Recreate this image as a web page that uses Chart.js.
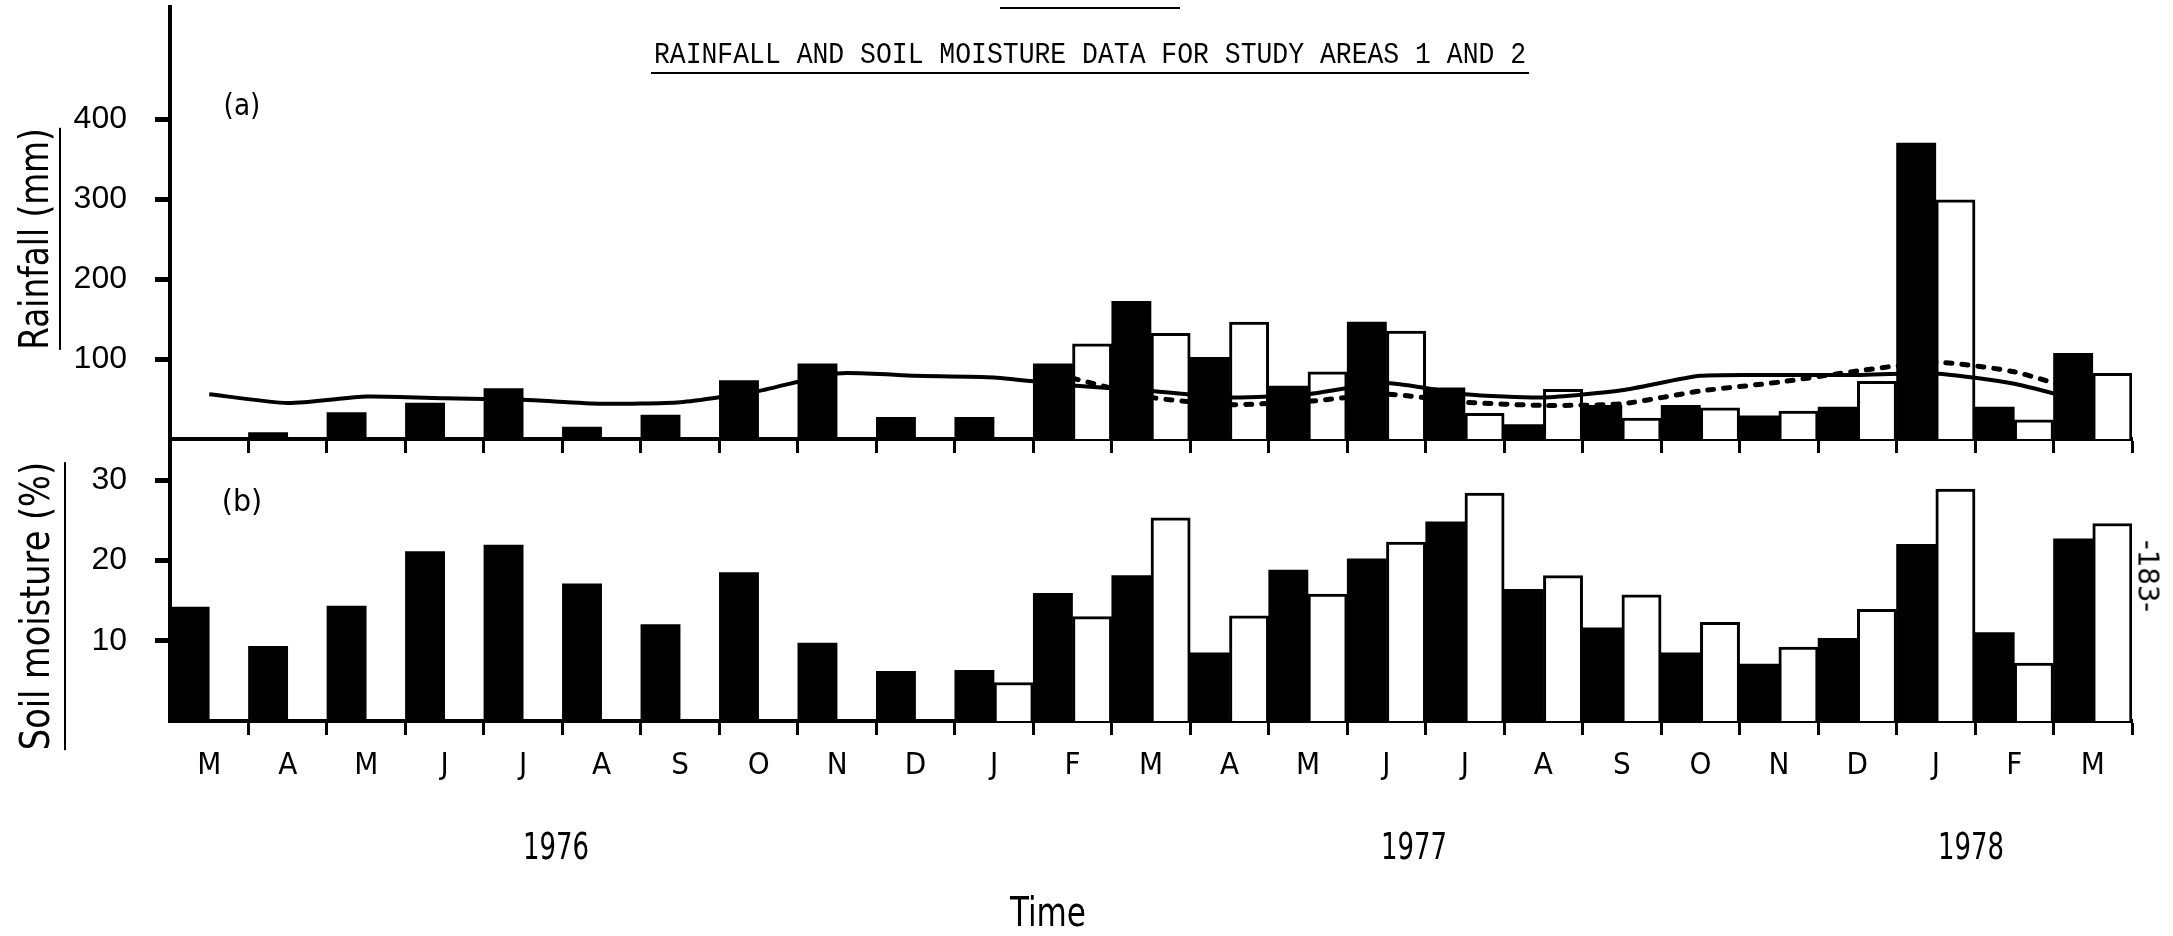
<!DOCTYPE html>
<html>
<head>
<meta charset="utf-8">
<script src="https://cdn.jsdelivr.net/npm/chart.js@4.4.1/dist/chart.umd.min.js"></script>
<style>
  html, body { margin: 0; padding: 0; background: #fff; }
  body { width: 2173px; height: 936px; position: relative; overflow: hidden; }
  canvas { position: absolute; left: 0; top: 0; }
  .t { position: absolute; white-space: nowrap; line-height: 1; color: #000; }
</style>
</head>
<body>
<canvas id="rain" width="2173" height="936"></canvas>
<canvas id="soil" width="2173" height="936"></canvas>
<script>
// months from March 1976 to March 1978
const months = ["M", "A", "M", "J", "J", "A", "S", "O", "N", "D", "J", "F", "M", "A", "M", "J", "J", "A", "S", "O", "N", "D", "J", "F", "M"];
const years = ["1976", "1977", "1978"];

// (a) monthly rainfall, mm  (black = study area 1, white = study area 2)
const rainArea1 = [null, 8, 33, 45, 63, 15, 30, 73, 94, 27, 27, 94, 172, 102, 66, 146, 64, 18, 42, 42, 29, 40, 370, 40, 107];
const rainArea2 = [null, null, null, null, null, null, null, null, null, null, null, 119, 132, 146, 84, 135, 32, 62, 26, 39, 35, 72, 299, 24, 82];
// long term mean rainfall (solid = area 1, dotted = area 2)
const rainMean1 = [56, 45, 53, 51, 49, 44, 46, 60, 82, 79, 77, 67, 60, 52, 56, 70, 56, 52, 61, 79, 80, 80, 82, 69, 44];
const rainMean2 = [null, null, null, null, null, null, null, null, null, null, null, 76, 52, 43, 47, 56, 46, 42, 44, 60, 71, 85, 96, 84, 55];

// (b) soil moisture, %
const soilArea1 = [14.2, 9.3, 14.3, 21.1, 21.9, 17.1, 12.0, 18.5, 9.7, 6.2, 6.3, 15.9, 18.1, 8.5, 18.8, 20.2, 24.8, 16.4, 11.6, 8.5, 7.1, 10.3, 22.0, 11.0, 22.7];
const soilArea2 = [null, null, null, null, null, null, null, null, null, null, 4.8, 13.0, 25.3, 13.1, 15.8, 22.3, 28.4, 18.1, 15.7, 12.3, 9.2, 13.9, 28.9, 7.2, 24.6];

const rainTicks = [100, 200, 300, 400];
const soilTicks = [10, 20, 30];

const narrow = '"Liberation Sans Narrow", "DejaVu Sans Condensed", "Liberation Sans", sans-serif';

function barSets(a1, a2) {
  return [
    { data: a1, backgroundColor: "#000", borderWidth: 0, order: 2 },
    { data: a2, backgroundColor: "#fff", borderColor: "#000", borderWidth: 3, borderSkipped: "bottom", order: 2 }
  ];
}

function xScale(showLabels, height) {
  return {
    grid: {
      display: true, drawOnChartArea: false, drawTicks: true, offset: true,
      tickLength: 14, tickWidth: 3,
      tickColor: (c) => (c.index >= months.length || c.index === 0 ? "rgba(0,0,0,0)" : "#000")
    },
    border: { display: true, color: "#000", width: 4 },
    ticks: { display: showLabels, color: "#000", padding: 12, maxRotation: 0, autoSkip: false, font: { family: narrow, size: 31 } },
    afterFit: (s) => { s.height = height; }
  };
}

function yScale(max, ticks) {
  return {
    min: 0, max: max,
    afterBuildTicks: (s) => { s.ticks = ticks.map((v) => ({ value: v })); },
    grid: { drawOnChartArea: false, drawTicks: true, tickLength: 15, tickWidth: 5, tickColor: "#000" },
    border: { display: true, color: "#000", width: 4 },
    ticks: { color: "#000", padding: 28, font: { family: '"Liberation Sans", sans-serif', size: 32 } },
    afterFit: (s) => { s.width = 170; s.paddingTop = 0; s.paddingBottom = 0; }
  };
}

const common = {
  responsive: false, animation: false, devicePixelRatio: 1,
  plugins: { legend: { display: false }, tooltip: { enabled: false } },
  datasets: { bar: { categoryPercentage: 1, barPercentage: 1 } }
};

new Chart(document.getElementById("rain"), {
  type: "bar",
  data: {
    labels: months,
    datasets: [
      { type: "line", data: rainMean1, borderColor: "#000", borderWidth: 4, pointRadius: 0, tension: 0.2, order: 0 },
      { type: "line", data: rainMean2, borderColor: "#000", borderWidth: 5, borderDash: [6, 10], borderCapStyle: "round", pointRadius: 0, tension: 0.2, order: 1 },
      ...barSets(rainArea1, rainArea2)
    ]
  },
  options: {
    ...common,
    layout: { padding: { top: 7, right: 41, left: 0, bottom: 936 - 439 - 21 } },
    scales: { x: xScale(false, 21), y: yScale(540, rainTicks) }
  }
});

new Chart(document.getElementById("soil"), {
  type: "bar",
  data: { labels: months, datasets: barSets(soilArea1, soilArea2) },
  options: {
    ...common,
    layout: { padding: { top: 440, right: 41, left: 0, bottom: 936 - 721 - 70 } },
    scales: { x: xScale(true, 70), y: yScale(35, soilTicks) }
  }
});

// free text placed on the page
function place(text, cx, cy, o) {
  const d = document.createElement("div");
  d.className = "t";
  d.textContent = text;
  d.style.left = cx + "px";
  d.style.top = cy + "px";
  d.style.font = o.font;
  if (o.css) d.style.cssText += o.css;
  document.body.appendChild(d);
  const k = o.width ? o.width / d.offsetWidth : 1;
  d.style.transform = "translate(-50%,-50%) rotate(" + (o.rot || 0) + "deg) scaleX(" + k + ")";
  return d;
}

place("RAINFALL AND SOIL MOISTURE DATA FOR STUDY AREAS 1 AND 2", 1090, 55,
  { font: '30px "Liberation Mono", monospace', width: 872 });
place("", 1090, 73, { font: "10px sans-serif", css: "width:878px;height:0;border-top:2px solid #000;" });
place("", 1090, 8, { font: "10px sans-serif", css: "width:180px;height:0;border-top:2px solid #000;" });

place("(a)", 242, 104, { font: '30px "DejaVu Sans", sans-serif', width: 37 });
place("(b)", 242, 500, { font: '30px "DejaVu Sans", sans-serif', width: 40 });

place("Rainfall (mm)", 36, 239, { font: '40px "DejaVu Sans", sans-serif', width: 222, rot: -90, css: "border-bottom:2px solid #000;padding-bottom:2px;" });
place("Soil moisture (%)", 39, 606, { font: '40px "DejaVu Sans", sans-serif', width: 288, rot: -90, css: "border-bottom:2px solid #000;padding-bottom:6px;" });

const yearX = [556, 1414, 1971];
years.forEach((y, i) => place(y, yearX[i], 846, { font: "38px " + narrow, width: 66 }));

place("Time", 1048, 915, { font: "40px " + narrow, width: 76, css: "border-bottom:3px solid #000;padding-bottom:3px;" });
place("-183-", 2148, 576, { font: "28px " + narrow, width: 72, rot: 90 });
</script>
</body>
</html>
